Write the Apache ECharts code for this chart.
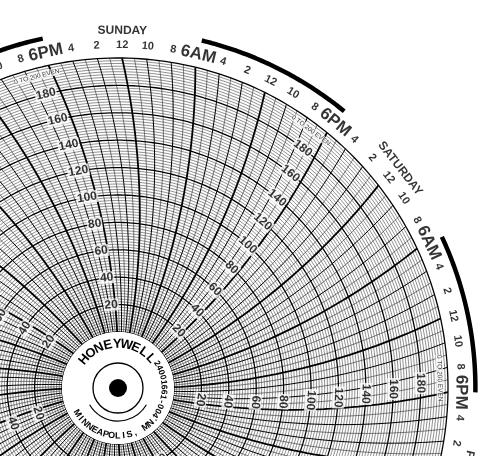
<!DOCTYPE html>
<html>
<head>
<meta charset="UTF-8">
<script src="https://cdn.jsdelivr.net/npm/echarts@6/dist/echarts.min.js"></script>
<style>html,body{margin:0;background:#fff}#c{width:480px;height:456px}</style>
</head>
<body>
<div id="c"></div>
<script>
// chart data
var days = ['THURSDAY', 'FRIDAY', 'SATURDAY', 'SUNDAY', 'MONDAY', 'TUESDAY', 'WEDNESDAY'];
var hourLabels = ['12', '2', '4', '6AM', '8', '10', '12', '2', '4', '6PM', '8', '10']; // every 2 h from midnight
var valueTicks = [20, 40, 60, 80, 100, 120, 140, 160, 180];
var scaleText = '0 TO 200 EVEN';

var CX = 118, CY = 388, R0 = 56, K = 1.37, ROUT = 330;
var START = 269.3, DEG_H = 360 / 168;

// pen-arc curvature: hour shift at radius value v
function offH(v) {
  var r = Math.min(R0 + v * K, 1400);
  var d = Math.acos(ROUT / 1400) - Math.acos(r / 1400);
  return d * 180 / Math.PI / DEG_H;
}
function ang(h) { return START + h * DEG_H; }
function rot(a) {
  var t = a - 90;
  while (t > 180) t -= 360;
  while (t <= -180) t += 360;
  if (t > 100) t -= 180;
  if (t < -120) t += 180;
  return t;
}

// time lines
var thinT = [], medT = [], boldT = [];
for (var k = 0; k < 168; k++) {
  var h = k, arr = (k % 6 === 0) ? boldT : (k % 2 === 0 ? medT : thinT);
  for (var v = 0; v <= 200; v += 5) arr.push([v, h + offH(v)]);
  arr.push('-');
}
// circles
var thinC = [], boldC = [];
for (var v = 0; v <= 200; v += 2) {
  var arr = (v % 20 === 0) ? boldC : thinC;
  for (var h = 0; h <= 168; h += 0.5) arr.push([v, h]);
  arr.push('-');
}
// night bars
var bars = [];
for (var d = 0; d < 7; d++) {
  for (var h = d * 24 + 18; h <= d * 24 + 30.01; h += 0.25) bars.push([220, h]);
  bars.push('-');
}
// labels
var labels = [];
for (var d = 0; d < 7; d++) {
  for (var i = 0; i < 12; i++) {
    var h = d * 24 + i * 2, t = hourLabels[i], big = (t === '6AM' || t === '6PM');
    labels.push({ name: t, value: [209.5, h], label: { rotate: rot(ang(h)), fontSize: big ? 17 : 11 } });
  }
  var hn = d * 24 + 12;
  labels.push({ name: days[d], value: [220, hn], label: { rotate: rot(ang(hn)), fontSize: 12 } });
  for (var j = 0; j < valueTicks.length; j++) {
    var vv = valueTicks[j], hv = d * 24 + 19.3 + offH(vv);
    labels.push({ name: String(vv), value: [vv, hv],
      label: { rotate: rot(ang(hv)), fontSize: 12, backgroundColor: '#fff', padding: [0, 1] } });
  }
  var hs = d * 24 + 19.3 + offH(194);
  labels.push({ name: scaleText, value: [194, hs],
    label: { rotate: rot(ang(hs)), fontSize: 6.5, fontWeight: 'normal', backgroundColor: '#fff' } });
}

function lineS(data, w, c) {
  return { type: 'line', coordinateSystem: 'polar', data: data, symbol: 'none', silent: true,
    connectNulls: false, lineStyle: { width: w, color: c } };
}

// hub text along arcs
var graphics = [
  { type: 'circle', shape: { cx: CX, cy: CY, r: R0 }, style: { fill: '#fff' }, z: 10 },
  { type: 'circle', shape: { cx: CX, cy: CY, r: 25 }, style: { fill: 'none', stroke: '#000', lineWidth: 1.3 }, z: 11 },
  { type: 'circle', shape: { cx: CX, cy: CY, r: 9 }, style: { fill: '#000' }, z: 11 },
  { type: 'arc', shape: { cx: CX, cy: CY, r: 33, startAngle: Math.PI * 0.17, endAngle: Math.PI * 0.83 },
    style: { fill: 'none', stroke: '#000', lineWidth: 1.2 }, z: 11 }
];
function arcText(str, r, a0, a1, size, bottom) {
  for (var i = 0; i < str.length; i++) {
    var a = a0 + (a1 - a0) * (str.length === 1 ? 0.5 : i / (str.length - 1));
    var rad = a * Math.PI / 180;
    graphics.push({ type: 'text', x: CX + r * Math.cos(rad), y: CY - r * Math.sin(rad),
      rotation: ((bottom ? a - 270 : a - 90)) * Math.PI / 180, z: 12,
      style: { text: str[i], fontSize: size, fontWeight: 'bold', fontFamily: 'Liberation Sans',
        fill: '#000', align: 'center', verticalAlign: 'middle' } });
  }
}
arcText('HONEYWELL', 44, 140, 42, 13, false);
arcText('MINNEAPOLIS, MN.', 48, 212, 320, 9, true);
arcText('24001661-004', 46, 32, -36, 8.5, false);

var chart = echarts.init(document.getElementById('c'));
chart.setOption({
  animation: false,
  backgroundColor: '#fff',
  polar: { center: [CX, CY], radius: [R0, R0 + 225 * K] },
  angleAxis: { type: 'value', min: 0, max: 168, startAngle: START, clockwise: false,
    axisLine: { show: false }, axisTick: { show: false }, axisLabel: { show: false }, splitLine: { show: false } },
  radiusAxis: { type: 'value', min: 0, max: 225, show: false,
    axisLine: { show: false }, axisTick: { show: false }, axisLabel: { show: false }, splitLine: { show: false } },
  series: [
    lineS(thinC, 0.6, '#444'),
    lineS(thinT, 0.7, '#444'),
    lineS(medT, 1, '#000'),
    lineS(boldT, 1.8, '#000'),
    lineS(boldC, 1.3, '#000'),
    lineS(bars, 4.5, '#000'),
    { type: 'scatter', coordinateSystem: 'polar', symbolSize: 0, silent: true, data: labels, z: 5,
      label: { show: true, position: 'inside', formatter: '{b}', color: '#000', fontWeight: 'bold',
        fontFamily: 'Liberation Sans' } }
  ],
  graphic: graphics
});
</script>
</body>
</html>
